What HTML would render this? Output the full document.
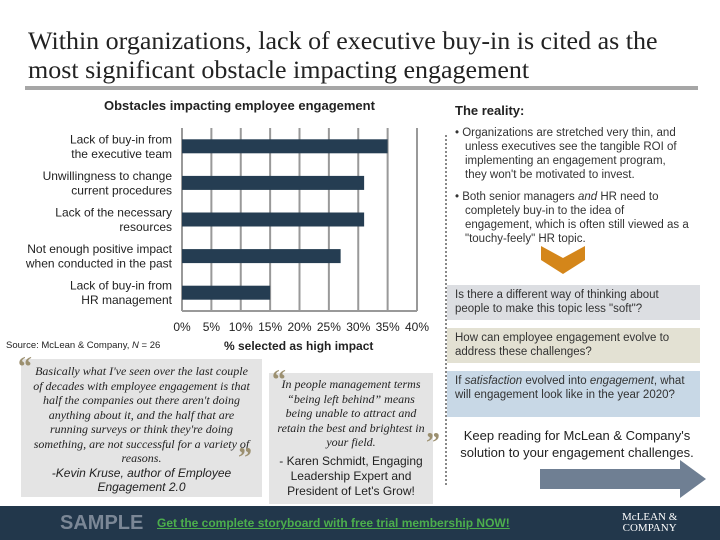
<!DOCTYPE html>
<html><head><meta charset="utf-8"><style>
body{margin:0;width:720px;height:540px;position:relative;background:#fff;font-family:"Liberation Sans",sans-serif;overflow:hidden;color:#222}
.a{position:absolute}
.title{left:28px;top:27px;font-family:"Liberation Serif",serif;font-size:25px;line-height:29px;color:#222;transform:scaleX(1.04);transform-origin:left top;white-space:nowrap}
.box{font-size:11.5px;line-height:13.5px;padding:4px 8px;color:#333}
.q{font-family:"Liberation Serif",serif;font-style:italic;font-size:12px;line-height:14.5px;text-align:center;color:#222}
.qm{font-family:"Liberation Serif",serif;font-size:28px;color:#9c9070;font-weight:bold}
</style></head><body>
<div class="a title">Within organizations, lack of executive buy-in is cited as the<br>most significant obstacle impacting engagement</div>
<div class="a" style="left:25px;top:86px;width:673px;height:4px;background:#a6a6a6"></div>
<div class="a" style="left:104px;top:98px;font-size:13px;font-weight:bold">Obstacles impacting employee engagement</div>
<svg class="a" id="chart" style="left:0;top:0" width="440" height="350"></svg>
<div class="a" style="left:6px;top:340px;font-size:9.5px">Source: McLean &amp; Company, <i>N</i> = 26</div>
<div class="a" style="left:224px;top:339px;font-size:12px;font-weight:bold">% selected as high impact</div>
<div class="a" style="left:445px;top:135px;height:350px;border-left:2px dotted #888"></div>
<div class="a" style="left:455px;top:103px;font-size:13px;font-weight:bold;color:#222">The reality:</div>
<div class="a" style="left:455px;top:126px;width:235px;font-size:11.5px;line-height:14px;color:#333">
<div style="padding-left:10px;text-indent:-10px;margin-bottom:8px">• Organizations are stretched very thin, and unless executives see the tangible ROI of implementing an engagement program, they won't be motivated to invest.</div>
<div style="padding-left:10px;text-indent:-10px">• Both senior managers <i>and</i> HR need to completely buy-in to the idea of engagement, which is often still viewed as a "touchy-feely" HR topic.</div></div>
<svg class="a" style="left:541px;top:246px" width="44" height="30"><polygon points="0,0 22,12 44,0 44,14 22,28 0,14" fill="#d4861a"/></svg>
<div class="a box" style="left:447px;top:285px;width:237px;height:27px;background:#dcdee2">Is there a different way of thinking about people to make this topic less "soft"?</div>
<div class="a box" style="left:447px;top:328px;width:237px;height:27px;background:#e3e1d3">How can employee engagement evolve to address these challenges?</div>
<div class="a box" style="left:447px;top:371px;width:237px;height:38px;background:#c8d8e6">If <i>satisfaction</i> evolved into <i>engagement</i>, what will engagement look like in the year 2020?</div>
<div class="a" style="left:447px;top:427px;width:260px;font-size:13px;line-height:17px;text-align:center;color:#222">Keep reading for McLean &amp; Company's solution to your engagement challenges.</div>
<svg class="a" style="left:540px;top:460px" width="170" height="38"><polygon points="0,9 140,9 140,0 166,19 140,38 140,29 0,29" fill="#6f7f93"/></svg>
<div class="a" style="left:21px;top:359px;width:241px;height:138px;background:#e4e4e4"><div class="q" style="padding:5px 10px">Basically what I've seen over the last couple of decades with employee engagement is that half the companies out there aren't doing anything about it, and the half that are running surveys or think they're doing something, are not successful for a variety of reasons.<br><span style="font-family:'Liberation Sans';font-size:12px">-Kevin Kruse, author of <i>Employee Engagement 2.0</i></span></div></div>
<div class="a qm" style="left:18px;top:352px">“</div>
<div class="a qm" style="left:238px;top:443px">”</div>
<div class="a" style="left:269px;top:373px;width:164px;height:131px;background:#e4e4e4"><div class="q" style="padding:4px 8px">In people management terms “being left behind” means being unable to attract and retain the best and brightest in your field.<br><span style="font-family:'Liberation Sans';font-style:normal;font-size:12px;line-height:15px;display:block;margin-top:4px">- Karen Schmidt, Engaging Leadership Expert and President of Let's Grow!</span></div></div>
<div class="a qm" style="left:272px;top:365px">“</div>
<div class="a qm" style="left:426px;top:428px">”</div>
<div class="a" style="left:0;top:506px;width:720px;height:34px;background:#22374b">
<div class="a" style="left:60px;top:6px;font-size:20px;font-weight:bold;color:#7b8796">SAMPLE</div>
<div class="a" style="left:157px;top:10px;font-size:12px;font-weight:bold;color:#4cae4c;text-decoration:underline">Get the complete storyboard with free trial membership NOW!</div>
<div class="a" style="left:622px;top:6px;font-family:'Liberation Serif',serif;font-size:11px;line-height:11px;color:#fff;text-align:center">McLEAN &amp;<br>COMPANY</div>
</div>
<script>
const categories=["Lack of buy-in from the executive team","Unwillingness to change current procedures","Lack of the necessary resources","Not enough positive impact when conducted in the past","Lack of buy-in from HR management"];
const labelLines=[["Lack of buy-in from","the executive team"],["Unwillingness to change","current procedures"],["Lack of the necessary","resources"],["Not enough positive impact","when conducted in the past"],["Lack of buy-in from","HR management"]];
const values=[35,31,31,27,15];
const ticks=[0,5,10,15,20,25,30,35,40];
const tickLabels=["0%","5%","10%","15%","20%","25%","30%","35%","40%"];
const svg=document.getElementById('chart');
const NS="http://www.w3.org/2000/svg";
const x0=182,x1=417,yT=128,yB=311,xMax=40;
const xs=v=>x0+(x1-x0)*v/xMax;
const band=(yB-yT)/categories.length;
const yc=i=>yT+band*(i+0.5);
function mk(t,a){const e=document.createElementNS(NS,t);for(const k in a)e.setAttribute(k,a[k]);svg.appendChild(e);return e;}
ticks.forEach((t,i)=>{
 const g=mk('line',{x1:xs(t),x2:xs(t),y1:yT,y2:yB,stroke:'#999','stroke-width':2});
 
 
 const tx=mk('text',{x:xs(t),y:331,'text-anchor':'middle','font-size':12,'font-family':'Liberation Sans, sans-serif',fill:'#222'});
 tx.textContent=tickLabels[i];
 
 
});
const ax=mk('line',{x1:x0,x2:x1,y1:yB,y2:yB,stroke:'#999','stroke-width':2});


categories.forEach((c,i)=>{
 const r=mk('rect',{x:x0,y:yc(i)-7,width:xs(values[i])-x0,height:14,fill:'#253d52'});
 
 
 labelLines[i].forEach((l,j)=>{
  const t=mk('text',{x:172,y:yc(i)-3+j*14.5,'text-anchor':'end','font-size':12,'font-family':'Liberation Sans, sans-serif',fill:'#222'});
  t.textContent=l;
  
  
 });
});
</script>
</body></html>
